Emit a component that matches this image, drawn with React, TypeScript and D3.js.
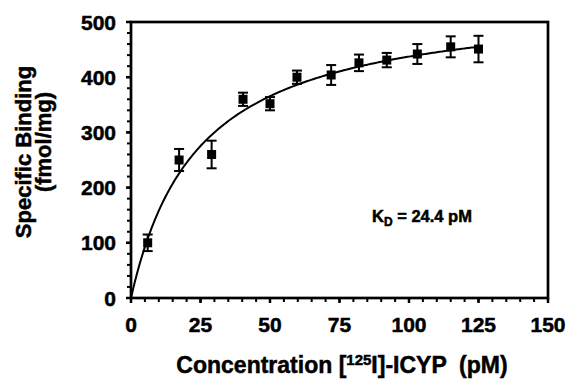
import React from "react";
import * as d3 from "d3";

const concentrations = [6, 17.3, 29, 40.3, 50, 59.7, 72, 82, 92, 103, 115, 125];
const binding = [100, 250, 260, 360, 352, 400, 404, 426, 431, 442, 455, 451];
const errors = [15, 20, 25, 12, 12, 12, 18, 15, 13, 18, 19, 24];
const xTicks = [0, 25, 50, 75, 100, 125, 150];
const yTicks = [0, 100, 200, 300, 400, 500];
const KD = 24.4;
const Bmax = 544;

const W = 568;
const H = 379;
const FONT = "'Liberation Sans', Arial, sans-serif";

export default function App() {
  const x = d3.scaleLinear().domain([0, 150]).range([131, 548]);
  const y = d3.scaleLinear().domain([0, 500]).range([298, 22]);

  const xMinor = d3.range(0, 151, 5);
  const yMinor = d3.range(0, 501, 20);

  const curveX = d3.range(0, 125.01, 0.5);
  const line = d3
    .line<number>()
    .x((c) => x(c))
    .y((c) => y((Bmax * c) / (KD + c)));

  const [x0, x1] = x.range();
  const [y0, y1] = y.range();

  return (
    <svg
      width={W}
      height={H}
      style={{ position: "absolute", left: 0, top: 0 }}
      fontFamily={FONT}
      fontWeight="bold"
    >
      <rect width={W} height={H} fill="#fff" />
      {/* minor ticks */}
      {xMinor.map((t) => (
        <line key={"xm" + t} x1={x(t)} x2={x(t)} y1={y0} y2={y0 + 4} stroke="#000" strokeWidth={2} />
      ))}
      {yMinor.map((t) => (
        <line key={"ym" + t} x1={x0 - 4} x2={x0} y1={y(t)} y2={y(t)} stroke="#000" strokeWidth={2} />
      ))}
      {xTicks.map((t) => (
        <line key={"xt" + t} x1={x(t)} x2={x(t)} y1={y0} y2={y0 + 5} stroke="#000" strokeWidth={2.5} />
      ))}
      {yTicks.map((t) => (
        <line key={"yt" + t} x1={x0 - 5} x2={x0} y1={y(t)} y2={y(t)} stroke="#000" strokeWidth={2.5} />
      ))}
      {/* frame */}
      <rect x={x0} y={y1} width={x1 - x0} height={y0 - y1} fill="none" stroke="#000" strokeWidth={2.7} />

      <g stroke="#000" strokeWidth={0.5}>
        {/* tick labels */}
        {xTicks.map((t) => (
          <text key={"xl" + t} x={x(t)} y={332} textAnchor="middle" fontSize={21}>
            {t}
          </text>
        ))}
        {yTicks.map((t) => (
          <text key={"yl" + t} x={116} y={y(t)} dy="0.36em" textAnchor="end" fontSize={21}>
            {t}
          </text>
        ))}

        {/* KD annotation */}
        <text x={372} y={222} fontSize={16.5}>
          K<tspan fontSize={12} dy={4}>D</tspan>
          <tspan dy={-4}> = 24.4 pM</tspan>
        </text>

        {/* axis titles */}
        <text x={342} y={373} textAnchor="middle" fontSize={23} style={{ whiteSpace: "pre" }}>
          {"Concentration ["}
          <tspan fontSize={15} dy={-8}>125</tspan>
          <tspan dy={8}>{"I]-ICYP  (pM)"}</tspan>
        </text>
        <text transform="translate(31,152) rotate(-90)" textAnchor="middle" fontSize={22}>
          Specific Binding
        </text>
        <text transform="translate(51,142) rotate(-90)" textAnchor="middle" fontSize={22}>
          (fmol/mg)
        </text>
      </g>

      {/* curve */}
      <path d={line(curveX) || ""} fill="none" stroke="#000" strokeWidth={2} />

      {/* error bars and markers */}
      {concentrations.map((c, i) => {
        const cx = x(c);
        const top = y(binding[i] + errors[i]);
        const bot = y(binding[i] - errors[i]);
        return (
          <g key={"p" + i}>
            <line x1={cx} x2={cx} y1={top} y2={bot} stroke="#000" strokeWidth={2} />
            <line x1={cx - 5} x2={cx + 5} y1={top} y2={top} stroke="#000" strokeWidth={2} />
            <line x1={cx - 5} x2={cx + 5} y1={bot} y2={bot} stroke="#000" strokeWidth={2} />
            <rect x={cx - 4.5} y={y(binding[i]) - 4.5} width={9} height={9} fill="#000" />
          </g>
        );
      })}
    </svg>
  );
}
